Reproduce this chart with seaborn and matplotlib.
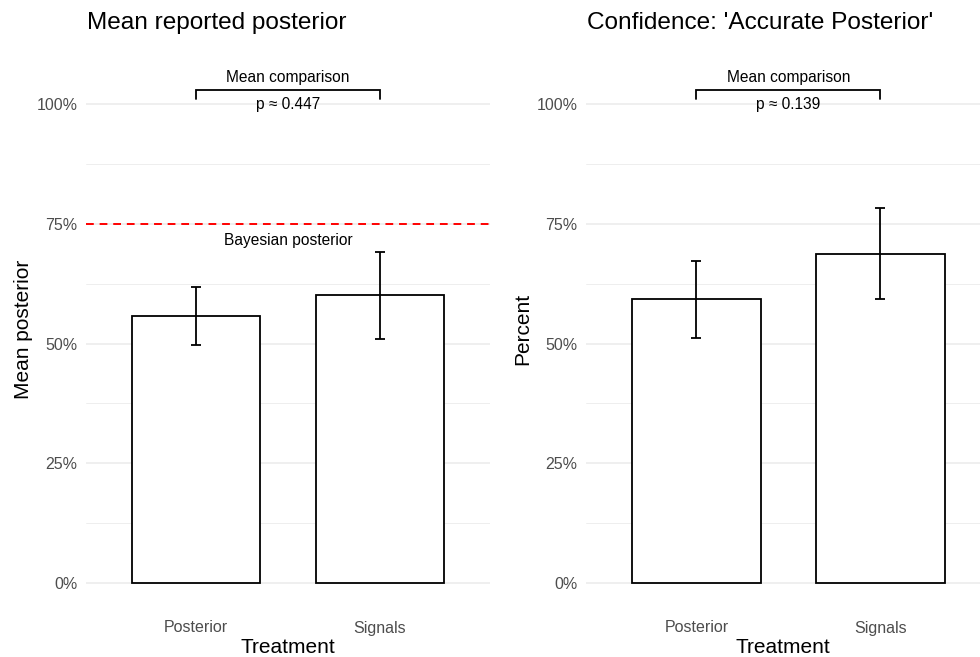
import matplotlib
matplotlib.use("Agg")
import matplotlib.pyplot as plt
import seaborn as sns
import pandas as pd
from matplotlib.ticker import FixedLocator, PercentFormatter

sns.set_theme(style="white")
plt.rcParams["font.family"] = ["Liberation Sans", "DejaVu Sans"]

treatments = ["Posterior", "Signals"]

# Panel 1: mean reported posterior
posterior_mean = [0.557, 0.601]
posterior_lo = [0.497, 0.509]
posterior_hi = [0.618, 0.691]
posterior_p = "p \u2248 0.447"
bayesian_benchmark = 0.75

# Panel 2: confidence in the accurate posterior
confidence_mean = [0.593, 0.687]
confidence_lo = [0.511, 0.593]
confidence_hi = [0.672, 0.783]
confidence_p = "p \u2248 0.139"

major_ticks = [0, 0.25, 0.5, 0.75, 1.0]
minor_ticks = [0.125, 0.375, 0.625, 0.875]

W, H = 980, 657
fig = plt.figure(figsize=(W / 100, H / 100), dpi=100)

ax1 = fig.add_axes([86 / W, 1 - 608 / H, 404 / W, 558 / H])
ax2 = fig.add_axes([586 / W, 1 - 608 / H, 394 / W, 558 / H])

GRID = "#EBEBEB"
TICK = "#4D4D4D"


def draw_panel(ax, means, lo, hi, ylabel, ptext, xmax):
    df = pd.DataFrame({"Treatment": treatments, "value": means})
    sns.barplot(data=df, x="Treatment", y="value", ax=ax, color="white",
                edgecolor="black", linewidth=1.3, width=0.7, errorbar=None,
                saturation=1, zorder=3)
    for patch in ax.patches:
        patch.set_facecolor("white")
    xs = list(range(len(treatments)))
    yerr = [[m - l for m, l in zip(means, lo)], [h - m for m, h in zip(means, hi)]]
    ax.errorbar(xs, means, yerr=yerr, fmt="none", ecolor="black",
                elinewidth=1.3, capsize=3.8, capthick=1.3, zorder=4)

    # comparison bracket
    ax.plot([0, 0, 1, 1], [1.010, 1.029, 1.029, 1.010], color="black",
            lw=1.3, zorder=4, solid_joinstyle="miter")
    ax.text(0.5, 1.055, "Mean comparison", ha="center", va="center",
            fontsize=11.2, color="black")
    ax.text(0.5, 0.998, ptext, ha="center", va="center",
            fontsize=11.2, color="black")

    ax.set_xlim(-0.6, xmax)
    ax.set_ylim(-0.052, 1.1127)
    ax.yaxis.set_major_locator(FixedLocator(major_ticks))
    ax.yaxis.set_minor_locator(FixedLocator(minor_ticks))
    ax.yaxis.set_major_formatter(PercentFormatter(1.0, decimals=0))
    ax.grid(axis="y", which="major", color=GRID, lw=1.1, zorder=0)
    ax.grid(axis="y", which="minor", color=GRID, lw=0.6, zorder=0)
    ax.grid(axis="x", visible=False)
    ax.set_axisbelow(True)
    for s in ax.spines.values():
        s.set_visible(False)
    ax.tick_params(axis="both", which="both", length=0, labelsize=11.5,
                   labelcolor=TICK, pad=6)
    ax.tick_params(axis="x", pad=9)
    ax.set_xlabel("Treatment", fontsize=15, color="black", labelpad=2)
    ax.set_ylabel(ylabel, fontsize=15, color="black", labelpad=3)


draw_panel(ax1, posterior_mean, posterior_lo, posterior_hi,
           "Mean posterior", posterior_p, 1.6)
ax1.axhline(bayesian_benchmark, color="red", ls=(0, (4, 3)), lw=1.4, zorder=2)
ax1.text(0.5, 0.716, "Bayesian posterior", ha="center", va="center",
         fontsize=11.2, color="black")

draw_panel(ax2, confidence_mean, confidence_lo, confidence_hi,
           "Percent", confidence_p, -0.6 + 394 / 184)

fig.text(87 / W, 1 - 23 / H, "Mean reported posterior", ha="left",
         va="center", fontsize=17.6, color="black")
fig.text(587 / W, 1 - 23 / H, "Confidence: 'Accurate Posterior'", ha="left",
         va="center", fontsize=17.6, color="black")

fig.savefig("out.png", dpi=100, facecolor="white")
